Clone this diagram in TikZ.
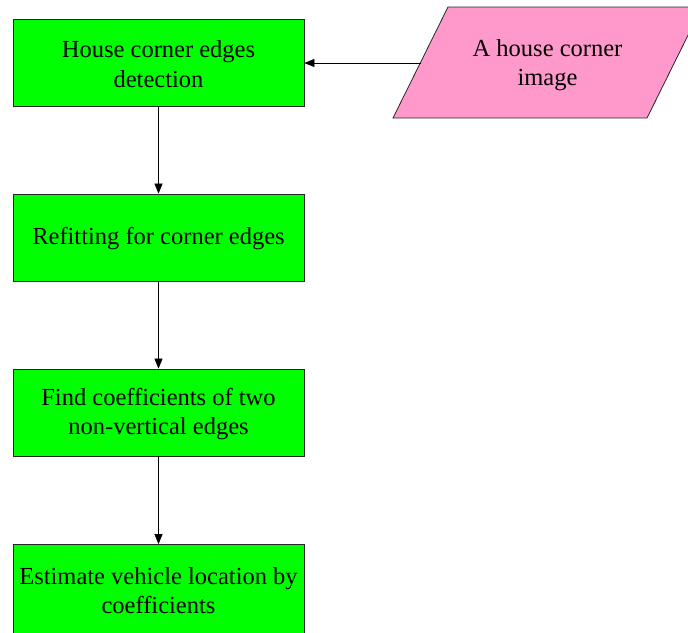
\documentclass[tikz,border=0pt]{standalone}
\usepackage{fontspec}
\setmainfont{Liberation Serif}
\usetikzlibrary{arrows.meta}
\definecolor{boxgreen}{HTML}{00FF00}
\definecolor{inpink}{HTML}{FF99CC}
\begin{document}
\begin{tikzpicture}[x=1pt,y=-1pt,
  procbox/.style={draw=black!85,line width=0.8pt,fill=boxgreen,
    minimum width=291pt,minimum height=87pt,inner sep=0pt},
  steptext/.style={inner sep=0pt,align=center,yshift=-1.5pt,
    font=\fontsize{24.5}{29.5}\selectfont},
  inputshape/.style={draw=black!85,line width=0.8pt,fill=inpink},
  flow/.style={draw=black,line width=0.75pt,-{Triangle[length=10pt,width=8pt]}}]
  \useasboundingbox (0,0) rectangle (688,632);
  \clip (0,0) rectangle (688,632);
  % process steps
  \node[procbox,label={[steptext]center:House corner edges\\detection}] (b1) at (158.5,62.5) {};
  \node[procbox,label={[steptext]center:Refitting for corner edges}] (b2) at (158.5,237.5) {};
  \node[procbox,label={[steptext]center:Find coefficients of two\\non-vertical edges}] (b3) at (158.5,412.5) {};
  \node[procbox,minimum height=89pt,label={[steptext]center:Estimate vehicle location by\\coefficients}] (b4) at (158.5,589) {};
  % input parallelogram
  \draw[inputshape] (393,118) -- (448,7) -- (702,7) -- (647,118) -- cycle;
  \node[steptext,yshift=0pt] (img) at (547.5,63.5) {A house corner\\image};
  \coordinate (imgin) at (420.5,63);
  % connectors
  \draw[flow] (imgin) -- (b1.east |- imgin);
  \draw[flow] (b1.south) -- (b2.north);
  \draw[flow] (b2.south) -- (b3.north);
  \draw[flow] (b3.south) -- (b4.north);
\end{tikzpicture}
\end{document}
